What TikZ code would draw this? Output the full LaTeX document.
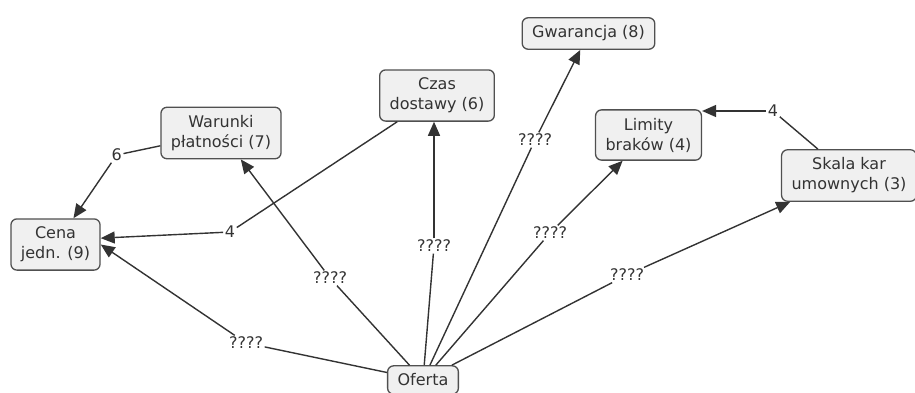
\documentclass[tikz,border=0pt]{standalone}
\usepackage{fontspec}
\setmainfont{DejaVu Sans}
\usetikzlibrary{arrows.meta}
\definecolor{boxfill}{HTML}{F0F0F0}
\definecolor{boxline}{HTML}{505050}
\definecolor{inkgray}{HTML}{333333}
\begin{document}
\begin{tikzpicture}[
  x=1pt, y=-1pt,
  concept/.style = {shape=rectangle, rounded corners=6pt, draw=boxline,
    fill=boxfill, line width=1.3pt, align=center, text=inkgray,
    inner xsep=10pt, inner ysep=8pt, font=\fontsize{16}{20}\selectfont},
  linklabel/.style = {inner sep=1.5pt, text=inkgray,
    font=\fontsize{16}{20}\selectfont},
  link/.style = {draw=inkgray, line width=1.4pt},
  arr/.style = {link, -{Triangle[length=14pt,width=12pt]}}
  ]
    \useasboundingbox (0,0) rectangle (915,392);
    % concepts
    \node[concept] (gwar)   at (588.5,33.5) {Gwarancja (8)};
    \node[concept] (czas)   at (437,95.5)   {Czas\\dostawy (6)};
    \node[concept] (warunki) at (221,133)   {Warunki\\płatności (7)};
    \node[concept] (limity) at (648.5,135)  {Limity\\braków (4)};
    \node[concept] (skala)  at (849,175.5)  {Skala kar\\umownych (3)};
    \node[concept] (cena)   at (55.5,244.5) {Cena\\jedn. (9)};
    \node[concept] (oferta) at (423,380)    {Oferta};
    % link labels
    \node[linklabel] (l6)     at (116.7,155) {6};
    \node[linklabel] (l4a)    at (230,232)   {4};
    \node[linklabel] (l4b)    at (773,111)   {4};
    \node[linklabel] (qcena)  at (246,343)   {????};
    \node[linklabel] (qwar)   at (330,278)   {????};
    \node[linklabel] (qczas)  at (434,246)   {????};
    \node[linklabel] (qgwar)  at (535,140)   {????};
    \node[linklabel] (qlim)   at (550,233)   {????};
    \node[linklabel] (qskala) at (627,275)   {????};
    % links
    \draw[link] (warunki) -- (l6);
    \draw[arr]  (l6) -- (cena);
    \draw[link] (czas) -- (l4a);
    \draw[arr]  (l4a) -- (cena.8);
    \draw[link] (skala) -- (l4b);
    \draw[arr]  (l4b) -- (limity.east |- l4b);
    \draw[link] (oferta) -- (qcena);
    \draw[arr]  (qcena) -- (cena.east);
    \draw[link] (oferta) -- (qwar);
    \draw[arr]  (qwar) -- (warunki);
    \draw[link] (oferta) -- (qczas);
    \draw[arr]  (qczas) -- (qczas |- czas.south);
    \draw[link] (oferta) -- (qgwar);
    \draw[arr]  (qgwar) -- (gwar);
    \draw[link] (oferta) -- (qlim);
    \draw[arr]  (qlim) -- (limity);
    \draw[link] (oferta) -- (qskala);
    \draw[arr]  (qskala) -- (skala);
\end{tikzpicture}
\end{document}
